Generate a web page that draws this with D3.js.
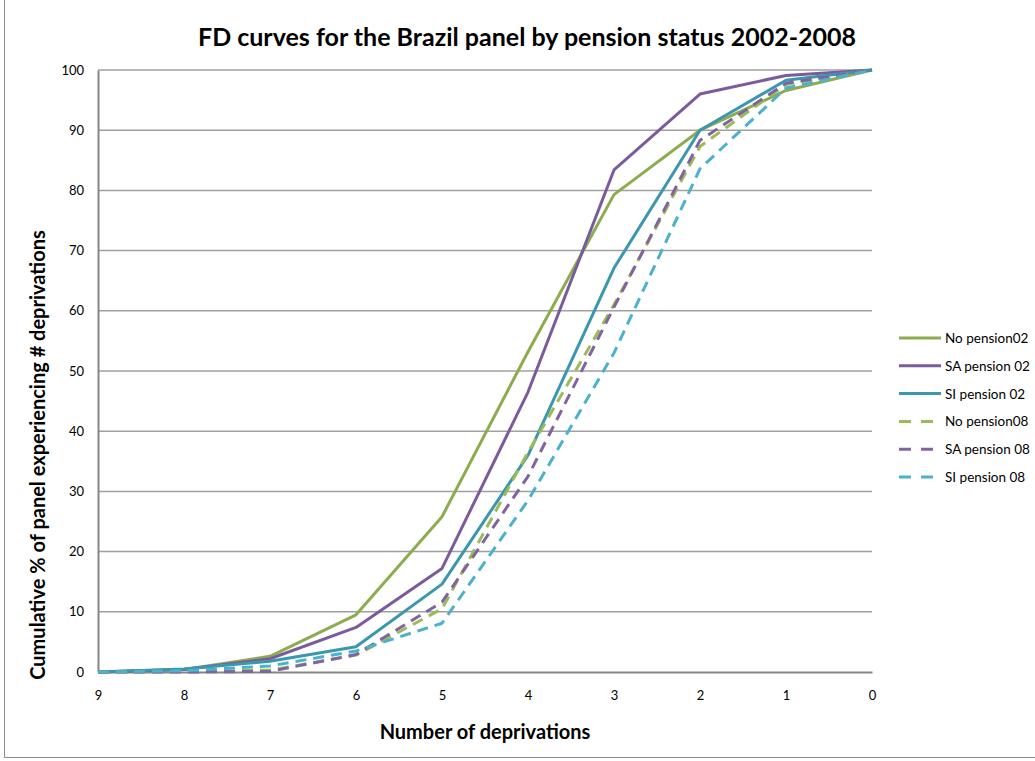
<!DOCTYPE html>
<html>
<head>
<meta charset="utf-8">
<script src="https://cdn.jsdelivr.net/npm/d3@7"></script>
<style>
  html, body { margin: 0; padding: 0; background: #fff; }
  svg { display: block; font-family: Lato, "Open Sans", sans-serif; }
</style>
</head>
<body>
<svg id="chart" width="1035" height="761"></svg>
<script>
// Number of deprivations, from most to fewest
const categories = ["9", "8", "7", "6", "5", "4", "3", "2", "1", "0"];

// Cumulative % of panel experiencing # deprivations
const noPension02 = [0, 0.4, 2.6, 9.5, 25.8, 53.2, 79.3, 90.0, 96.6, 100];
const saPension02 = [0, 0.4, 2.2, 7.4, 17.2, 46.5, 83.4, 96.0, 99.1, 100];
const siPension02 = [0, 0.5, 1.8, 4.2, 14.6, 36.0, 67.1, 90.0, 98.3, 100];
const noPension08 = [0, 0.1, 0.3, 2.8, 10.5, 36.5, 61.0, 87.3, 97.6, 100];
const saPension08 = [0, 0.0, 0.1, 2.9, 11.6, 32.5, 60.6, 88.3, 97.8, 100];
const siPension08 = [0, 0.2, 1.0, 3.5, 8.1, 28.5, 53.0, 83.6, 97.0, 100];

const seriesNames = ["No pension02", "SA pension 02", "SI pension 02",
                     "No pension08", "SA pension 08", "SI pension 08"];
const yTicks = [0, 10, 20, 30, 40, 50, 60, 70, 80, 90, 100];

const series = [
  { name: seriesNames[0], values: noPension02, color: "#8dac4f", dashed: false },
  { name: seriesNames[1], values: saPension02, color: "#7a5c9c", dashed: false },
  { name: seriesNames[2], values: siPension02, color: "#3b97ae", dashed: false },
  { name: seriesNames[3], values: noPension08, color: "#9bbb59", dashed: true },
  { name: seriesNames[4], values: saPension08, color: "#8064a2", dashed: true },
  { name: seriesNames[5], values: siPension08, color: "#4bb1cc", dashed: true }
];

const svg = d3.select("#chart");
const plotLeft = 98, plotRight = 872, plotTop = 70, plotBottom = 672;

// Chart frame
svg.append("path")
  .attr("d", "M4.5,-1 V757.5 H1040")
  .attr("fill", "none")
  .attr("stroke", "#8c8c8c")
  .attr("stroke-width", 1);

const x = d3.scalePoint().domain(categories).range([plotLeft, plotRight]);
const y = d3.scaleLinear().domain([0, 100]).range([plotBottom, plotTop]);

// Horizontal gridlines
svg.append("g")
  .selectAll("line")
  .data(yTicks.filter(t => t > 0))
  .join("line")
  .attr("x1", plotLeft).attr("x2", plotRight)
  .attr("y1", d => y(d)).attr("y2", d => y(d))
  .attr("stroke", "#a0a0a0")
  .attr("stroke-width", 1.5);

// Y axis
const yAxis = svg.append("g")
  .attr("transform", `translate(${plotLeft},0)`)
  .call(d3.axisLeft(y).tickValues(yTicks).tickSize(0).tickPadding(14));
yAxis.select(".domain").attr("stroke", "#868686").attr("stroke-width", 2);
yAxis.selectAll("text")
  .attr("font-family", "Lato, sans-serif")
  .attr("font-size", 13)
  .attr("fill", "#000");

// X axis
const xAxis = svg.append("g")
  .attr("transform", `translate(0,${plotBottom})`)
  .call(d3.axisBottom(x).tickSize(0).tickPadding(19));
xAxis.select(".domain").attr("stroke", "#868686").attr("stroke-width", 2);
xAxis.selectAll("text")
  .attr("font-family", "Lato, sans-serif")
  .attr("font-size", 13)
  .attr("fill", "#000");

// Series lines
const line = d3.line()
  .x((d, i) => x(categories[i]))
  .y(d => y(d));

svg.append("g")
  .selectAll("path")
  .data(series)
  .join("path")
  .attr("d", d => line(d.values))
  .attr("fill", "none")
  .attr("stroke", d => d.color)
  .attr("stroke-width", 3)
  .attr("stroke-linejoin", "round")
  .attr("stroke-dasharray", d => d.dashed ? "11,7" : null);

// Title
svg.append("text")
  .attr("x", 527).attr("y", 46)
  .attr("text-anchor", "middle")
  .attr("font-family", "Lato, sans-serif")
  .attr("font-weight", "bold")
  .attr("font-size", 25)
  .text("FD curves for the Brazil panel by pension status 2002-2008");

// Axis titles
svg.append("text")
  .attr("x", 485).attr("y", 739)
  .attr("text-anchor", "middle")
  .attr("font-family", "Lato, sans-serif")
  .attr("font-weight", "bold")
  .attr("font-size", 20)
  .text("Number of deprivations");

svg.append("text")
  .attr("transform", "translate(45,455) rotate(-90)")
  .attr("text-anchor", "middle")
  .attr("font-family", "Lato, sans-serif")
  .attr("font-weight", "bold")
  .attr("font-size", 20)
  .text("Cumulative % of panel experiencing # deprivations");

// Legend
const legend = svg.append("g")
  .selectAll("g")
  .data(series)
  .join("g")
  .attr("transform", (d, i) => `translate(899,${338 + i * 27.8})`);

legend.append("line")
  .attr("x1", 0).attr("x2", 42)
  .attr("stroke", d => d.color)
  .attr("stroke-width", 3)
  .attr("stroke-dasharray", d => d.dashed ? "12,10" : null);

legend.append("text")
  .attr("x", 46).attr("y", 5)
  .attr("font-family", "Lato, sans-serif")
  .attr("font-size", 13.5)
  .attr("fill", "#000")
  .text(d => d.name);
</script>
</body>
</html>
